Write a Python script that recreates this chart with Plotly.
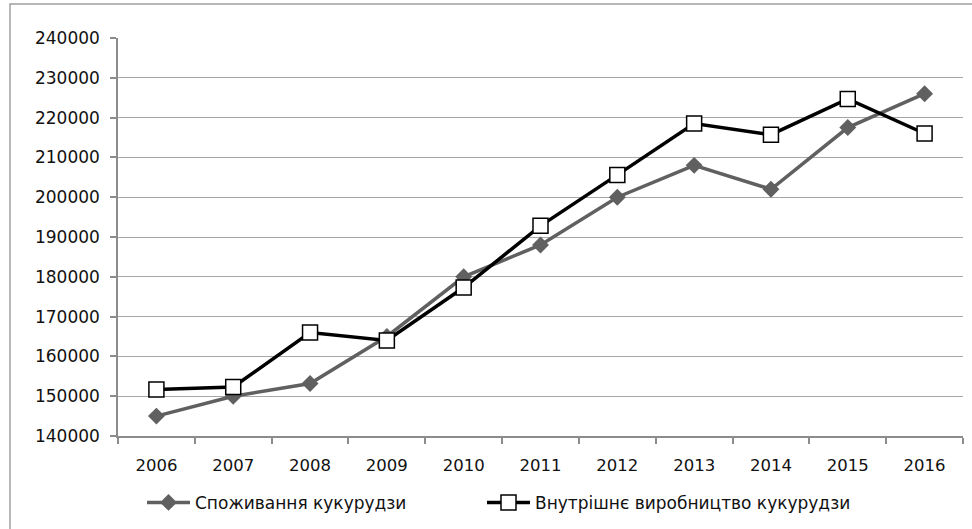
import plotly.graph_objects as go

years = ["2006", "2007", "2008", "2009", "2010", "2011", "2012", "2013", "2014", "2015", "2016"]
consumption = [145000, 150000, 153200, 165000, 180000, 188000, 200000, 208000, 202000, 217500, 226000]
production = [151700, 152300, 166000, 164000, 177300, 192800, 205600, 218500, 215700, 224700, 216000]
name_cons = "Споживання кукурудзи"
name_prod = "Внутрішнє виробництво кукурудзи"
y_ticks = list(range(140000, 240001, 10000))

FONT = "DejaVu Sans"

fig = go.Figure()
fig.add_trace(go.Scatter(
    x=years, y=consumption, name=name_cons, mode="lines+markers", legend="legend",
    line=dict(color="#606060", width=3.5),
    marker=dict(symbol="diamond", size=13, color="#606060"),
))
fig.add_trace(go.Scatter(
    x=years, y=production, name=name_prod, mode="lines+markers", legend="legend2",
    line=dict(color="#000000", width=3.5),
    marker=dict(symbol="square", size=15, color="#ffffff", line=dict(color="#000000", width=1.5)),
))

legend_common = dict(orientation="h", xanchor="left", y=-0.165, yanchor="middle",
                     font=dict(family=FONT, size=17, color="#111111"),
                     itemwidth=43, bgcolor="rgba(0,0,0,0)")

fig.update_layout(
    width=972, height=529,
    margin=dict(l=118, r=9, t=38, b=92),
    paper_bgcolor="white", plot_bgcolor="white",
    font=dict(family=FONT, size=16, color="#111111"),
    showlegend=True,
    legend=dict(x=(142 - 118) / 845, **legend_common),
    legend2=dict(x=(482 - 118) / 845, **legend_common),
    xaxis=dict(
        type="category", range=[-0.5, 10.5], automargin=False,
        showline=True, linecolor="#8c8c8c", linewidth=1.5,
        ticks="outside", ticklen=6, tickcolor="#8c8c8c", tickwidth=1.5,
        tickson="boundaries", showgrid=False, zeroline=False,
        ticklabelstandoff=13,
        tickfont=dict(family=FONT, size=16.5, color="#111111"),
    ),
    yaxis=dict(
        range=[140000, 240000], tickvals=y_ticks, automargin=False,
        ticktext=[str(v) for v in y_ticks],
        showline=True, linecolor="#8c8c8c", linewidth=1.5,
        ticks="outside", ticklen=6, tickcolor="#8c8c8c", tickwidth=1.5,
        showgrid=True, gridcolor="#a6a6a6", gridwidth=1.2, zeroline=False,
        ticklabelstandoff=7,
        tickfont=dict(family=FONT, size=17, color="#111111"),
    ),
    shapes=[dict(type="rect", xref="paper", yref="paper",
                 x0=(10 - 118) / 845, x1=1.2, y0=-0.5, y1=(437 - 4) / 399,
                 line=dict(color="#a0a0a0", width=1.5), fillcolor="rgba(0,0,0,0)", layer="below")],
)

fig.write_html("out.html", config={"displayModeBar": False},
               post_script="document.body.style.margin='0';")
